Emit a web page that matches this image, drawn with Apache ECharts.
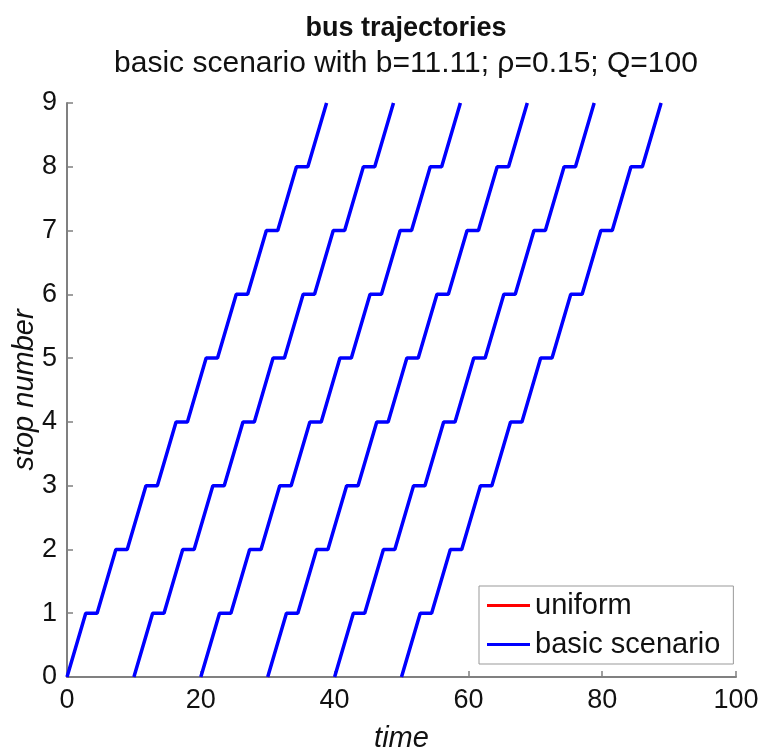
<!DOCTYPE html>
<html>
<head>
<meta charset="utf-8">
<script src="https://cdn.jsdelivr.net/npm/echarts@6/dist/echarts.min.js"></script>
<style>html,body{margin:0;padding:0;background:#fff}#c{width:764px;height:751px}</style>
</head>
<body>
<div id="c"></div>
<script>
// stop numbers visited (arrive / depart pairs at every intermediate stop)
var stops = [0, 1, 1, 2, 2, 3, 3, 4, 4, 5, 5, 6, 6, 7, 7, 8, 8, 9];
// times for each bus (start, arrive 1, depart 1, arrive 2, ... arrive 9)
var bus1 = [0, 2.8, 4.5, 7.3, 9.0, 11.8, 13.5, 16.3, 18.0, 20.8, 22.5, 25.3, 27.0, 29.8, 31.5, 34.3, 36.0, 38.8];
var bus2 = [10, 12.8, 14.5, 17.3, 19.0, 21.8, 23.5, 26.3, 28.0, 30.8, 32.5, 35.3, 37.0, 39.8, 41.5, 44.3, 46.0, 48.8];
var bus3 = [20, 22.8, 24.5, 27.3, 29.0, 31.8, 33.5, 36.3, 38.0, 40.8, 42.5, 45.3, 47.0, 49.8, 51.5, 54.3, 56.0, 58.8];
var bus4 = [30, 32.8, 34.5, 37.3, 39.0, 41.8, 43.5, 46.3, 48.0, 50.8, 52.5, 55.3, 57.0, 59.8, 61.5, 64.3, 66.0, 68.8];
var bus5 = [40, 42.8, 44.5, 47.3, 49.0, 51.8, 53.5, 56.3, 58.0, 60.8, 62.5, 65.3, 67.0, 69.8, 71.5, 74.3, 76.0, 78.8];
var bus6 = [50, 52.8, 54.5, 57.3, 59.0, 61.8, 63.5, 66.3, 68.0, 70.8, 72.5, 75.3, 77.0, 79.8, 81.5, 84.3, 86.0, 88.8];
var buses = [bus1, bus2, bus3, bus4, bus5, bus6];
var xTicks = [0, 20, 40, 60, 80, 100];
var yTicks = [0, 1, 2, 3, 4, 5, 6, 7, 8, 9];

var FONT = "'Liberation Sans', Arial, Helvetica, sans-serif";
function pts(times) { return times.map(function (t, i) { return [t, stops[i]]; }); }

var series = [];
buses.forEach(function (b) {
  series.push({ name: 'uniform', type: 'line', data: pts(b), symbol: 'none', silent: true,
    lineStyle: { color: '#ff0000', width: 2 }, itemStyle: { color: '#ff0000' }, z: 1, animation: false });
});
buses.forEach(function (b) {
  series.push({ name: 'basic scenario', type: 'line', data: pts(b), symbol: 'none', silent: true,
    lineStyle: { color: '#0000ff', width: 3.5 }, itemStyle: { color: '#0000ff' }, z: 2, animation: false });
});

var chart = echarts.init(document.getElementById('c'), null, { renderer: 'canvas' });
chart.setOption({
  backgroundColor: '#ffffff',
  animation: false,
  title: [
    { text: 'bus trajectories', left: 401, top: 10, textAlign: 'center',
      textStyle: { fontFamily: FONT, fontSize: 27, fontWeight: 'bold', color: '#111' } },
    { text: 'basic scenario with b=11.11; \u03c1=0.15; Q=100', left: 401, top: 44, textAlign: 'center',
      textStyle: { fontFamily: FONT, fontSize: 30, fontWeight: 'normal', color: '#111' } }
  ],
  grid: { left: 67, right: 28, top: 103, bottom: 74, containLabel: false, outerBoundsMode: 'none' },
  legend: {
    data: ['uniform', 'basic scenario'],
    orient: 'vertical', left: 479, top: 586,
    icon: 'rect', itemWidth: 43, itemHeight: 3, itemGap: 10,
    padding: [5, 13, 5, 8],
    borderColor: '#999', borderWidth: 1, backgroundColor: '#fff',
    textStyle: { fontFamily: FONT, fontSize: 29, color: '#111' }
  },
  xAxis: {
    type: 'value', min: xTicks[0], max: xTicks[xTicks.length - 1], interval: 20,
    name: 'time', nameLocation: 'middle', nameGap: 47, nameMoveOverlap: false,
    nameTextStyle: { fontFamily: FONT, fontSize: 29, fontStyle: 'italic', color: '#111' },
    axisLine: { show: true, lineStyle: { color: '#808080', width: 2 } },
    axisTick: { show: true, inside: true, length: 6, lineStyle: { color: '#808080', width: 1.5 } },
    axisLabel: { fontFamily: FONT, fontSize: 27, color: '#111', margin: 10 },
    splitLine: { show: false }
  },
  yAxis: {
    type: 'value', min: yTicks[0], max: yTicks[yTicks.length - 1], interval: 1,
    name: 'stop number', nameLocation: 'middle', nameGap: 28, nameMoveOverlap: false,
    nameTextStyle: { fontFamily: FONT, fontSize: 29, fontStyle: 'italic', color: '#111' },
    axisLine: { show: true, lineStyle: { color: '#808080', width: 2 } },
    axisTick: { show: true, inside: true, length: 6, lineStyle: { color: '#808080', width: 1.5 } },
    axisLabel: { fontFamily: FONT, fontSize: 27, color: '#111', margin: 10 },
    splitLine: { show: false }
  },
  series: series
});
</script>
</body>
</html>
